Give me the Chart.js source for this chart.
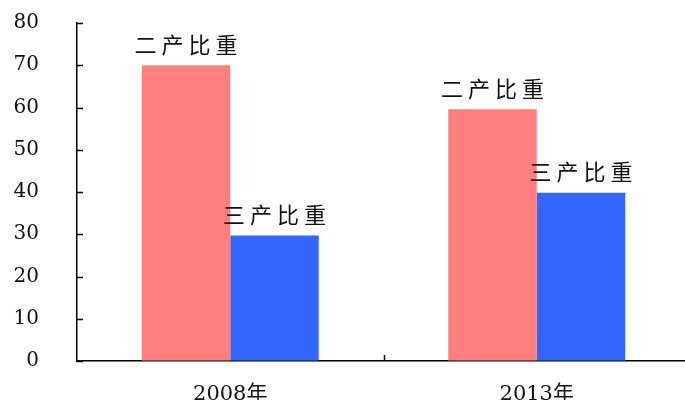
<!DOCTYPE html>
<html>
<head>
<meta charset="utf-8">
<script src="https://cdn.jsdelivr.net/npm/chart.js@4/dist/chart.umd.min.js"></script>
<style>
  html, body { margin: 0; padding: 0; background: #fff; overflow: hidden; }
  canvas { display: block; }
</style>
</head>
<body>
<canvas id="c" width="690" height="400"></canvas>
<script>
// Industry structure shares (%)
const categories = ['2008年', '2013年'];
const secondaryShare = [70, 59.6];
const tertiaryShare = [29.7, 39.8];
const seriesLabels = ['二产比重', '三产比重'];
const yMin = 0, yMax = 80, yStep = 10;

const SERIF = "'DejaVu Serif', 'Noto Sans CJK SC', serif";
const CJK = "'Noto Sans CJK SC', sans-serif";

// Inward tick marks, the category divider tick and text above each bar
const decorations = {
  id: 'decorations',
  afterDraw(chart) {
    const ctx = chart.ctx;
    const y = chart.scales.y, x = chart.scales.x;
    const left = chart.chartArea.left, bottom = chart.chartArea.bottom;
    ctx.save();
    ctx.strokeStyle = '#000';
    ctx.lineWidth = 1.5;
    ctx.beginPath();
    for (let v = yMin; v <= yMax; v += yStep) {
      const py = Math.round(y.getPixelForValue(v)) + 0.5;
      ctx.moveTo(left, py);
      ctx.lineTo(left + 6, py);
    }
    for (let i = 0; i < categories.length - 1; i++) {
      const px = Math.round((x.getPixelForValue(i) + x.getPixelForValue(i + 1)) / 2) + 0.5;
      ctx.moveTo(px, bottom);
      ctx.lineTo(px, bottom - 6);
    }
    ctx.stroke();

    ctx.fillStyle = '#111';
    ctx.font = '22px ' + CJK;
    ctx.textAlign = 'center';
    ctx.textBaseline = 'middle';
    const spacing = 5;
    ctx.letterSpacing = spacing + 'px';
    chart.data.datasets.forEach((ds, di) => {
      chart.getDatasetMeta(di).data.forEach((bar) => {
        ctx.fillText(seriesLabels[di], bar.x + spacing / 2, bar.y - 21);
      });
    });
    ctx.restore();
  }
};

new Chart(document.getElementById('c'), {
  type: 'bar',
  data: {
    labels: categories,
    datasets: [
      { label: seriesLabels[0], data: secondaryShare, backgroundColor: '#FF7F7F', borderWidth: 0 },
      { label: seriesLabels[1], data: tertiaryShare, backgroundColor: '#3366FF', borderWidth: 0 }
    ]
  },
  options: {
    responsive: false,
    animation: false,
    layout: { padding: { top: 23, right: 0, bottom: 0, left: 0 } },
    plugins: { legend: { display: false }, tooltip: { enabled: false } },
    datasets: { bar: { categoryPercentage: 0.5775, barPercentage: 1.0 } },
    scales: {
      x: {
        grid: { display: true, drawOnChartArea: false, drawTicks: false },
        border: { display: true, color: '#000', width: 1.5 },
        ticks: { color: '#111', font: { family: SERIF, size: 21 }, padding: 21 },
        afterFit(s) {
          s.height = 39;
          s.paddingLeft = 0; s.paddingRight = 0; s.paddingTop = 0; s.paddingBottom = 0;
        }
      },
      y: {
        min: yMin, max: yMax,
        grid: { display: true, drawOnChartArea: false, drawTicks: false },
        border: { display: true, color: '#000', width: 1.5 },
        ticks: { stepSize: yStep, color: '#111', font: { family: SERIF, size: 20 }, padding: 38 },
        afterFit(s) {
          s.width = 77;
          s.paddingLeft = 0; s.paddingRight = 0; s.paddingTop = 0; s.paddingBottom = 0;
        }
      }
    }
  },
  plugins: [decorations]
});
</script>
</body>
</html>
